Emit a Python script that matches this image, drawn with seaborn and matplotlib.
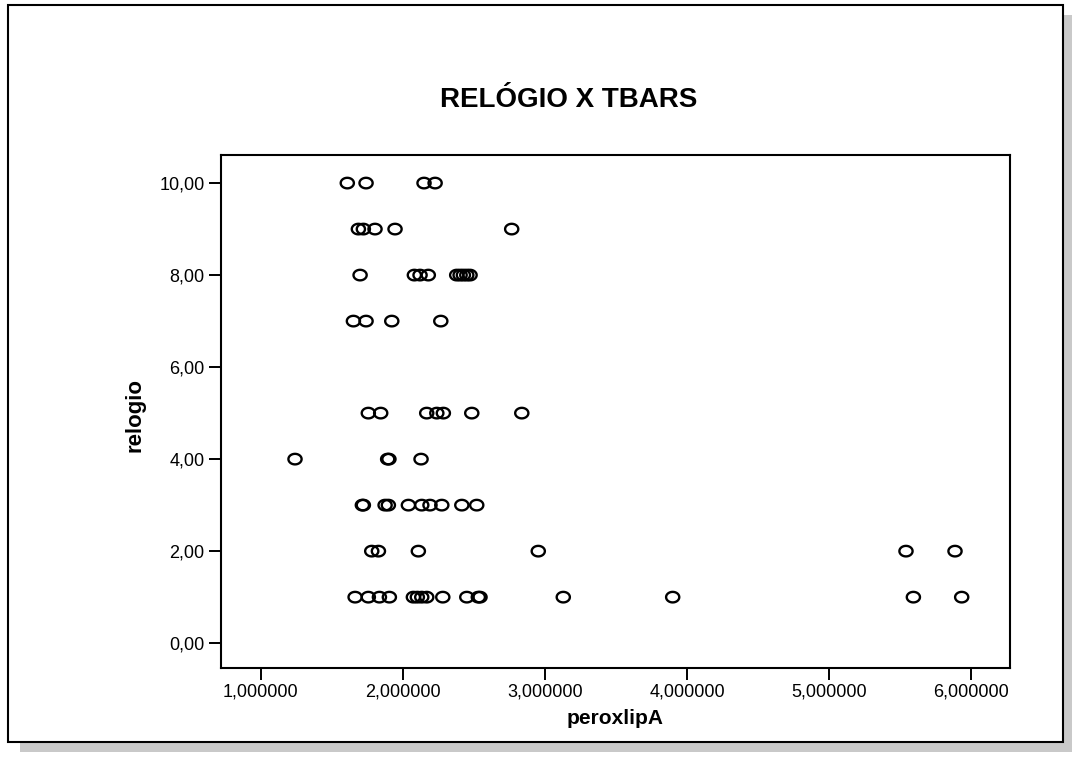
import numpy as np
import pandas as pd
import seaborn as sns
import matplotlib.pyplot as plt
from matplotlib.patches import Rectangle
from matplotlib.path import Path
from matplotlib.ticker import FuncFormatter

# valores (peroxlipA por nivel de relogio)
relogio_10 = [1.609, 1.741, 2.149, 2.227]
relogio_9 = [1.687, 1.722, 1.804, 1.945, 2.766]
relogio_8 = [1.699, 2.081, 2.121, 2.179, 2.379, 2.403, 2.426, 2.450, 2.473]
relogio_7 = [1.652, 1.741, 1.922, 2.267]
relogio_5 = [1.757, 1.844, 2.168, 2.239, 2.285, 2.485, 2.837]
relogio_4 = [1.241, 1.893, 1.902, 2.128]
relogio_3 = [1.715, 1.722, 1.875, 1.898, 2.039, 2.133, 2.191, 2.274, 2.415, 2.520]
relogio_2 = [1.781, 1.828, 2.109, 2.953, 5.541, 5.886]
relogio_1 = [1.664, 1.757, 1.835, 1.905, 2.074, 2.102, 2.133, 2.168, 2.281,
             2.450, 2.531, 2.543, 3.129, 3.899, 5.593, 5.933]

grupos = {10: relogio_10, 9: relogio_9, 8: relogio_8, 7: relogio_7, 5: relogio_5,
          4: relogio_4, 3: relogio_3, 2: relogio_2, 1: relogio_1}

x_ticks = [1, 2, 3, 4, 5, 6]
y_ticks = [0, 2, 4, 6, 8, 10]

rows = []
for nivel, valores in grupos.items():
    for v in valores:
        rows.append({'peroxlipA': v, 'relogio': nivel})
df = pd.DataFrame(rows)

sns.set_style('white')
plt.rcParams['font.family'] = ['Liberation Sans', 'DejaVu Sans']
plt.rcParams['text.color'] = 'black'
plt.rcParams['axes.labelcolor'] = 'black'

fig = plt.figure(figsize=(10.72, 7.58), dpi=100)

# sombra e moldura externa (estilo SPSS)
W, H = 1072, 758
fig.patches.append(Rectangle((20 / W, 1 - 752 / H), 1052 / W, 10 / H, transform=fig.transFigure,
                             facecolor='#c9c9c9', edgecolor='none', zorder=0))
fig.patches.append(Rectangle((1063 / W, 1 - 752 / H), 9 / W, 737 / H, transform=fig.transFigure,
                             facecolor='#c9c9c9', edgecolor='none', zorder=0))
fig.patches.append(Rectangle((8 / W, 1 - 742 / H), 1055 / W, 737 / H, transform=fig.transFigure,
                             facecolor='white', edgecolor='black', linewidth=1.5, zorder=1))

ax = fig.add_axes([220.7 / W, 1 - 668 / H, 789.3 / W, 513 / H])
ax.set_zorder(2)

t = np.linspace(0, 2 * np.pi, 60)
elipse = Path(np.column_stack([np.cos(t), 0.8 * np.sin(t)]), closed=True)

sns.scatterplot(data=df, x='peroxlipA', y='relogio', ax=ax, marker=elipse, s=90,
                facecolors='none', edgecolor='black', linewidth=1.7)

ax.set_xlim(0.718, 6.273)
ax.set_ylim(-0.54, 10.61)
ax.set_xticks(x_ticks)
ax.set_yticks(y_ticks)
ax.xaxis.set_major_formatter(FuncFormatter(lambda v, p: f'{v:.6f}'.replace('.', ',')))
ax.yaxis.set_major_formatter(FuncFormatter(lambda v, p: f'{v:.2f}'.replace('.', ',')))
ax.tick_params(axis='both', direction='out', length=8.5, width=1.4, labelsize=13,
               color='black', labelcolor='black', pad=3)
ax.tick_params(left=True, bottom=True)
for s in ax.spines.values():
    s.set_linewidth(1.5)
    s.set_color('black')

ax.set_xlabel('peroxlipA', fontsize=15, fontweight='bold')
ax.set_ylabel('relogio', fontsize=16, fontweight='bold')
ax.xaxis.set_label_coords(0.5, -0.0975)
ax.xaxis.label.set_va('center')
ax.yaxis.set_label_coords(-0.108, 0.493)
ax.yaxis.label.set_va('center')

fig.text(569 / W, 1 - 100 / H, 'RELÓGIO X TBARS', ha='center', va='center',
         fontsize=20, fontweight='bold', color='black', zorder=3)

fig.savefig('out.png', dpi=100)
